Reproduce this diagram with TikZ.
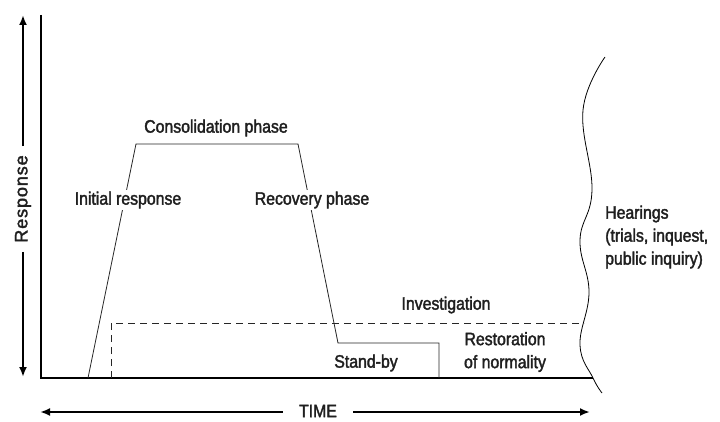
\documentclass[tikz,border=0pt]{standalone}
\usepackage{fontspec}
\setmainfont{Liberation Sans}[FakeStretch=0.88, FakeBold=2]
\newfontfamily\respfont{Liberation Sans}[LetterSpace=5, FakeBold=2]
\usetikzlibrary{arrows.meta}

\begin{document}
\begin{tikzpicture}[x=1pt, y=-1pt, >={Latex[length=10pt,width=8pt]},
  axis/.style={line width=2.6pt},
  arr/.style={line width=2.6pt, ->},
  phase/.style={line width=0.8pt, black!85},
  lbl/.style={font=\fontsize{18}{23}\selectfont, text=black!88, inner sep=2pt},
  cover/.style={lbl, fill=white}]
\useasboundingbox (0,0) rectangle (720,422);
% axes
\coordinate (ytop) at (41,15);
\coordinate (origin) at (41,378);
\coordinate (xend) at (593,378);
\draw[axis] (ytop) -- (origin) -- (xend);
% response arrow
\node[lbl, rotate=90, font=\respfont\fontsize{18}{23}\selectfont, inner xsep=9pt] (resp) at (23,199) {Response};
\coordinate (rtop) at (23,15);
\coordinate (rbot) at (23,377);
\draw[arr] (resp.east) -- (rtop);
\draw[arr] (resp.west) -- (rbot);
% time arrow
\node[lbl, inner xsep=16pt] (time) at (318,411) {TIME};
\coordinate (tleft) at (40,412);
\coordinate (tright) at (590,412);
\draw[arr] (time.west |- tleft) -- (tleft);
\draw[arr] (time.east |- tright) -- (tright);
% investigation
\draw[phase, dash pattern=on 7pt off 5pt] (111,378) -- (111,323) -- (584,323);
% response phases
\coordinate (p0) at (88,378);
\coordinate (p1) at (136,144);
\coordinate (p2) at (298,144);
\coordinate (p3) at (338,343);
\coordinate (p4) at (439,343);
\coordinate (p5) at (439,378);
\draw[phase] (p0) -- (p1) -- (p2) -- (p3) -- (p4) -- (p5);
% end of the time axis
\draw[line width=0.8pt] plot[smooth, tension=0.7] coordinates {(605,57) (583,110) (592,190) (580,240) (589,292) (580,345) (593,378) (602,393)};
% labels
\node[lbl] (consol) at (216,128) {Consolidation phase};
\node[cover] (initial) at (128,200) {Initial response};
\node[cover] (recov) at (312,200) {Recovery phase};
\node[lbl] (invest) at (446,305) {Investigation};
\node[lbl] (standby) at (366,363) {Stand-by};
\node[lbl, align=center] (restor) at (505,352) {Restoration\\of normality};
\node[lbl, align=left, anchor=west] (hear) at (603,237) {Hearings\\(trials, inquest,\\public inquiry)};
\end{tikzpicture}
\end{document}
